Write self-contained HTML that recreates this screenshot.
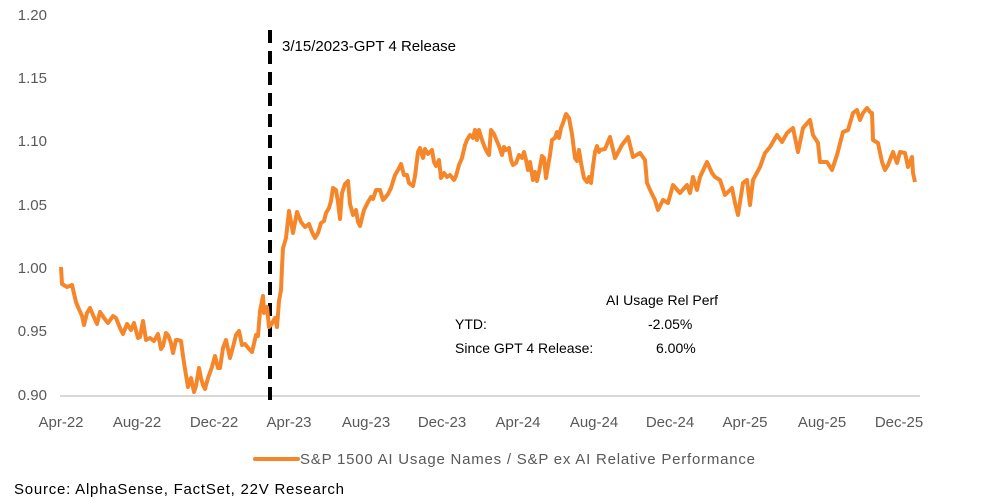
<!DOCTYPE html>
<html><head><meta charset="utf-8"><style>
html,body{margin:0;padding:0;background:#fff;}
svg{display:block;font-family:"Liberation Sans",sans-serif;}
</style></head><body>
<svg width="1002" height="499" viewBox="0 0 1002 499" xmlns="http://www.w3.org/2000/svg">
<g font-size="15" fill="#595959" text-anchor="end">
<text x="47" y="20">1.20</text>
<text x="47" y="83">1.15</text>
<text x="47" y="146">1.10</text>
<text x="47" y="210">1.05</text>
<text x="47" y="273">1.00</text>
<text x="47" y="336">0.95</text>
<text x="47" y="400">0.90</text>
</g>
<line x1="60" y1="396" x2="920" y2="396" stroke="#d9d9d9" stroke-width="2"/>
<line x1="270" y1="30" x2="270" y2="400" stroke="#000" stroke-width="4" stroke-dasharray="13,8"/>
<text x="282" y="51" font-size="15" fill="#000">3/15/2023-GPT 4 Release</text>
<polyline fill="none" stroke="#f5862a" stroke-width="4" stroke-linejoin="round" points="
61,267 62,284 67,287 72,285 76,302 78,307 82,316 84,325 87,313 90,308 93,315 97,324 100,312 104,318 108,323 113,316 116,318 120,328 123,334 127,324 131,330 134,323 138,338 140,337 143,321 146,340 150,338 154,341 158,334 161,349 163,346 166,333 168,335 171,343 173,353 176,340 178,340 181,341 183,356 185,369 188,387 191,378 194,392 196,386 199,368 201,378 203,385 205,389 208,378 212,367 215,356 218,368 220,368 223,348 226,340 230,358 233,347 236,335 239,331 242,345 245,344 249,349 252,352 256,335 258,336 260,311 263,296 264,313 267,307 269,327 271,325 275,318 277,327 279,301 281,290 282,267 283,248 284,245 286,238 289,211 293,233 297,212 301,222 305,227 309,224 312,232 315,238 318,233 321,223 324,221 326,213 329,208 331,201 333,188 336,190 338,202 340,219 342,193 345,184
348,181 350,204 353,215 356,210 358,222 360,226 364,210 368,202 371,197 373,199 376,190 380,190 383,200 385,198 388,194 391,188 395,175 398,170 401,164 404,175 407,175 409,183 413,186 415,176 418,152 420,148 423,158 425,149 428,154 432,150 434,162 436,166 439,160 441,178 444,173 447,177 450,175 454,180 456,176 459,165 462,158 465,145 467,140 470,135 473,138 475,130 477,140 479,130 482,140 485,148 487,152 489,155 491,130 494,134 496,139 499,146 502,155 504,147 506,150 509,148 511,160 513,165 516,163 519,155 522,158 524,152 526,160 528,170 530,162 533,180 535,172 537,181 539,172 542,156 544,158 546,178 548,166 550,155 552,140 555,138 557,132 559,138 561,128 563,123 566,114 569,118 572,134 573,142 575,158 577,161 579,150 581,163 584,178 587,182 589,177 591,183 593,166 595,152 597,146 599,152
600,150 605,149 610,137 615,158 622,145 628,137 633,157 640,153 645,160 647,183 651,192 655,200 658,210 663,200 668,203 673,185 680,193 687,185 690,193 693,177 697,190 700,177 707,162 712,173 715,177 720,180 725,195 732,188 735,203 738,215 743,183 747,180 750,205 753,180 760,167 765,153 770,147 777,135 782,142 787,133 793,128 798,152 803,128 810,120 813,135 818,143 820,162 827,162 832,170 837,155 843,132 848,130 853,113 857,110 860,120 863,113 867,108 870,112 872,113 873,140 878,143 882,162 885,170 888,165 893,152 897,163 900,152 905,153 908,167 912,157 913,173 915,182"/>
<g font-size="14" fill="#000">
<text x="606" y="305">AI Usage  Rel Perf</text>
<text x="455" y="329">YTD:</text>
<text x="648" y="329">-2.05%</text>
<text x="455" y="353">Since GPT 4 Release:</text>
<text x="656" y="353">6.00%</text>
</g>
<g font-size="15" fill="#595959" text-anchor="middle">
<text x="61" y="427">Apr-22</text>
<text x="137" y="427">Aug-22</text>
<text x="214" y="427">Dec-22</text>
<text x="289" y="427">Apr-23</text>
<text x="366" y="427">Aug-23</text>
<text x="442" y="427">Dec-23</text>
<text x="518" y="427">Apr-24</text>
<text x="594" y="427">Aug-24</text>
<text x="670" y="427">Dec-24</text>
<text x="745" y="427">Apr-25</text>
<text x="822" y="427">Aug-25</text>
<text x="899" y="427">Dec-25</text>
</g>
<line x1="255" y1="459" x2="298" y2="459" stroke="#f5862a" stroke-width="4" stroke-linecap="round"/>
<text x="300" y="464" font-size="15" fill="#595959" textLength="455">S&amp;P 1500 AI Usage Names / S&amp;P ex AI Relative Performance</text>
<text x="14" y="494" font-size="15" fill="#000" textLength="330">Source: AlphaSense, FactSet, 22V Research</text>
</svg>
</body></html>
